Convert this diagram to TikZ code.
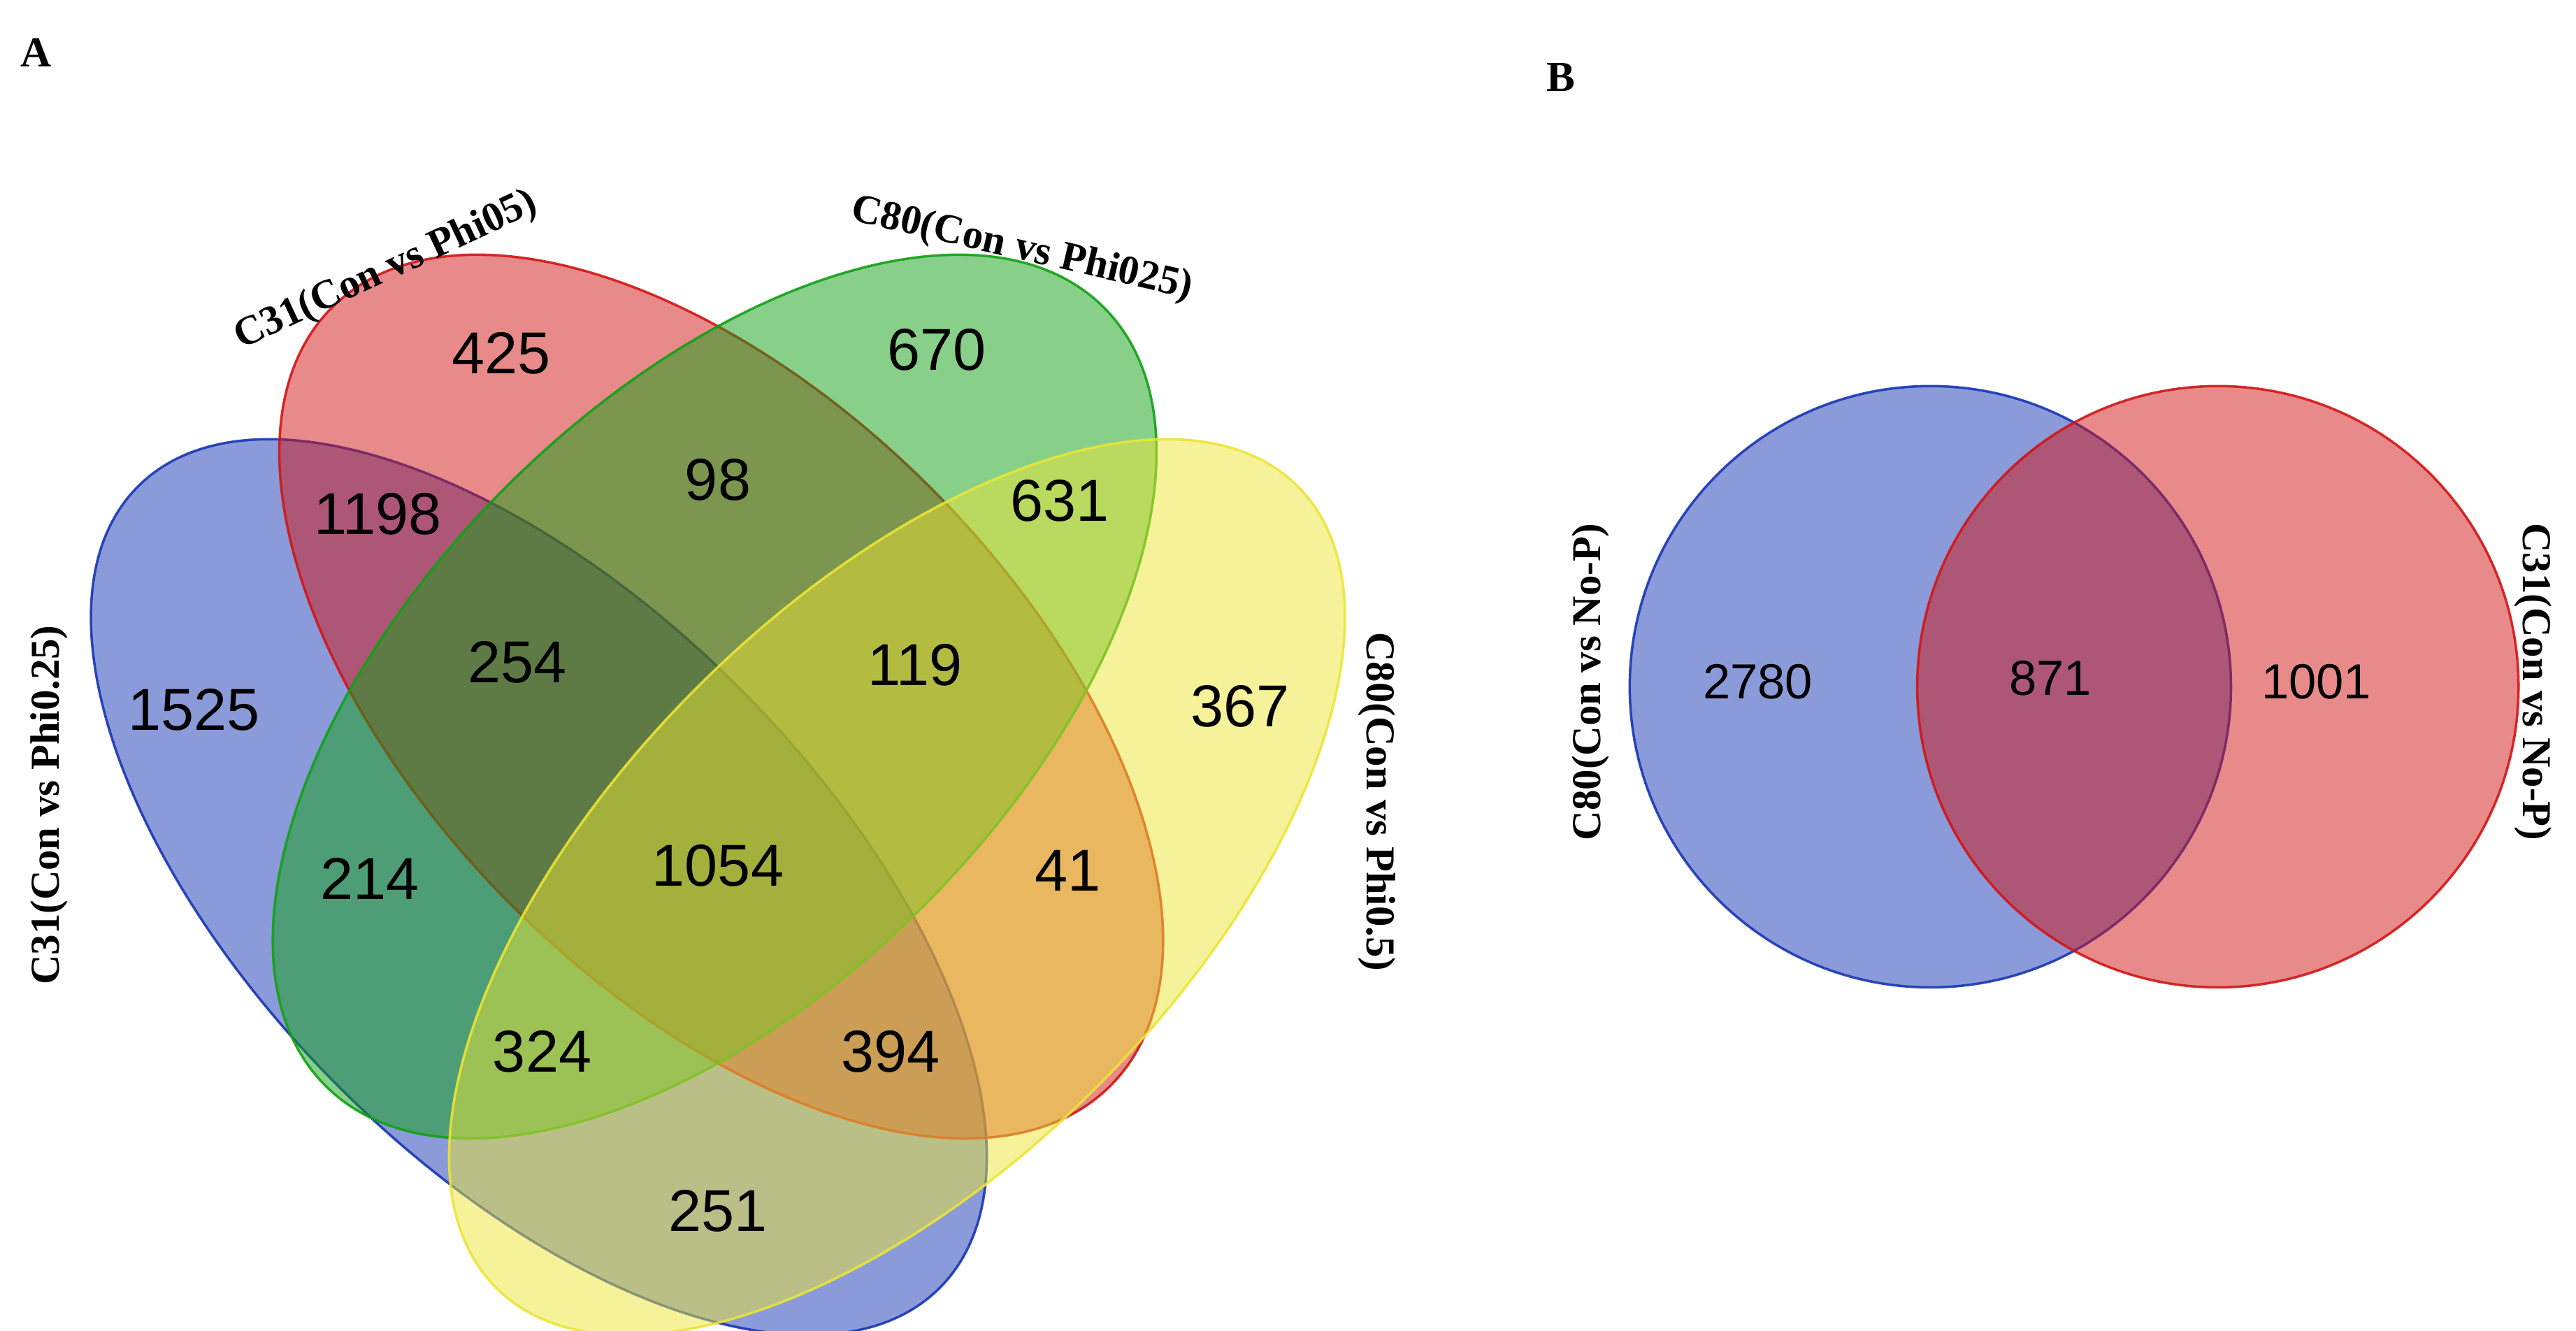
\documentclass[tikz,border=0pt]{standalone}
\usepackage{fontspec}
\setmainfont{Liberation Serif}
\newfontfamily\numfont{Liberation Sans}
\definecolor{vb}{RGB}{23,53,179}
\definecolor{vr}{RGB}{209,21,21}
\definecolor{vg}{RGB}{17,161,21}
\definecolor{vy}{RGB}{235,229,53}
\begin{document}
\begin{tikzpicture}[x=1pt,y=-1pt,
  num/.style={font=\numfont\fontsize{36}{38}\selectfont},
  numb/.style={font=\numfont\fontsize{30}{32}\selectfont},
  setl/.style={font=\bfseries\fontsize{25}{27}\selectfont},
  panel/.style={font=\bfseries\fontsize{26}{28}\selectfont},
  setfill/.style={fill=#1, fill opacity=0.5, draw=#1, draw opacity=0.9, line width=1.5pt}]
\useasboundingbox (0,0) rectangle (1568,810);
% panel A
\path[setfill=vb, rotate around={-45:(328,540)}] (328,540) ellipse [x radius=345, y radius=172];
\path[setfill=vr, rotate around={-45:(439,424)}] (439,424) ellipse [x radius=335, y radius=180];
\path[setfill=vg, rotate around={45:(435,424)}] (435,424) ellipse [x radius=335, y radius=180];
\path[setfill=vy, rotate around={45:(546,540)}] (546,540) ellipse [x radius=345, y radius=172];
\node[num] (n425) at (305,215) {425};
\node[num] (n670) at (570,213) {670};
\node[num] (n1198) at (230,313) {1198};
\node[num] (n98) at (437,292) {98};
\node[num] (n631) at (645,305) {631};
\node[num] (n1525) at (118,432) {1525};
\node[num] (n254) at (315,403) {254};
\node[num] (n119) at (557,405) {119};
\node[num] (n367) at (755,430) {367};
\node[num] (n214) at (225,535) {214};
\node[num] (n1054) at (437,527) {1054};
\node[num] (n41) at (650,530) {41};
\node[num] (n324) at (330,640) {324};
\node[num] (n394) at (542,640) {394};
\node[num] (n251) at (437,737) {251};
\node[setl, rotate=25] (l1) at (235,165) {C31(Con vs Phi05)};
\node[setl, rotate=-13] (l2) at (622,152) {C80(Con vs Phi025)};
\node[setl, rotate=90] (l3) at (30,490) {C31(Con vs Phi0.25)};
\node[setl, rotate=-90] (l4) at (838,488) {C80(Con vs Phi0.5)};
\node[panel] (pa) at (22,32) {A};
\node[panel] (pb) at (950,47) {B};
% panel B
\path[setfill=vb] (1175,418) circle [radius=183];
\path[setfill=vr] (1350,418) circle [radius=183];
\node[numb] (b1) at (1070,415) {2780};
\node[numb] (b2) at (1248,413) {871};
\node[numb] (b3) at (1410,415) {1001};
\node[setl, rotate=90] (bl1) at (968,415) {C80(Con vs No-P)};
\node[setl, rotate=-90] (bl2) at (1542,415) {C31(Con vs No-P)};
\end{tikzpicture}
\end{document}
